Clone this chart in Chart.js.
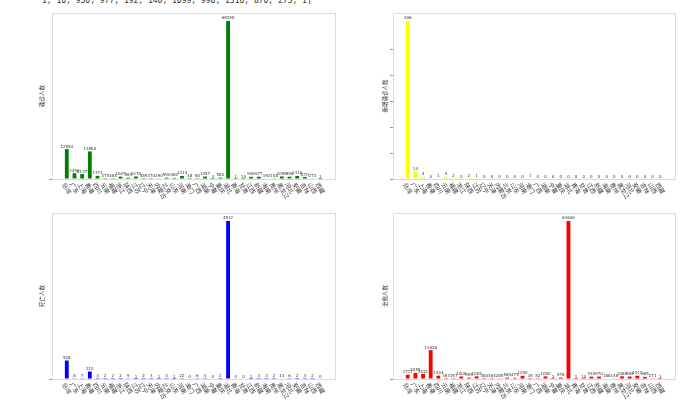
<!DOCTYPE html>
<html>
<head>
<meta charset="utf-8">
<script src="https://cdn.jsdelivr.net/npm/chart.js@4/dist/chart.umd.min.js"></script>
<style>
  body { margin: 0; background: #fff; width: 692px; height: 402px; overflow: hidden; position: relative; }
  canvas { position: absolute; }
  #out { position: absolute; left: 42px; top: -4px; font: 8px "DejaVu Sans Mono", monospace; color: #333; white-space: pre; }
</style>
</head>
<body>
<div id="out"></div>
<canvas id="c1" width="346" height="201" style="left:0;top:0"></canvas>
<canvas id="c2" width="346" height="201" style="left:346px;top:0"></canvas>
<canvas id="c3" width="346" height="201" style="left:0;top:201px"></canvas>
<canvas id="c4" width="346" height="201" style="left:346px;top:201px"></canvas>
<script>
const provinces = ['台湾','广东','上海','香港','四川','云南','福建','浙江','陕西','江苏','辽宁','天津','内蒙古','北京','山东','河南','澳门',
  '广西','湖南','宁夏','重庆','湖北','青海','甘肃','江西','新疆','海南','贵州','黑龙江','河北','安徽','吉林','山西','西藏'];
const confirmed = [12894, 2490, 2137, 11880, 1371, 375, 364, 1007, 564, 1070, 389, 370, 290, 590, 480, 1314, 38,
  58, 1057, 3, 582, 68158, 1, 10, 936, 977, 192, 148, 1099, 990, 1316, 870, 273, 1];
const newConfirmed = [306, 14, 4, 0, 1, 4, 2, 0, 2, 1, 0, 0, 0, 0, 0, 0, 1,
  0, 0, 0, 0, 0, 0, 0, 0, 0, 0, 0, 0, 0, 0, 0, 0, 0];
const deaths = [528, 8, 7, 212, 3, 2, 2, 2, 9, 1, 2, 3, 1, 3, 1, 22, 0,
  6, 4, 0, 2, 4512, 0, 0, 1, 3, 3, 2, 13, 6, 2, 3, 2, 0];
const cured = [1717, 2455, 2031, 11628, 1334, 367, 357, 1000, 555, 1065, 380, 364, 285, 580, 475, 1290, 36,
  52, 1050, 3, 576, 63646, 1, 10, 935, 970, 188, 146, 1080, 984, 1312, 865, 271, 1];

document.getElementById('out').textContent = confirmed.slice(-12).join(', ') + ']';

const CJK = '"Noto Sans CJK SC", sans-serif';

const decor = {
  id: 'decor',
  afterDatasetsDraw(chart) {
    const { ctx, chartArea: a, scales: { x } } = chart;
    const vals = chart.data.datasets[0].data;
    ctx.save();
    // value labels above bars
    ctx.font = '4px "DejaVu Sans", sans-serif';
    ctx.fillStyle = '#333';
    ctx.textAlign = 'center';
    ctx.textBaseline = 'bottom';
    chart.getDatasetMeta(0).data.forEach((bar, i) => {
      ctx.fillText(String(vals[i].y), bar.x, bar.y - 0.5);
    });
    // frame
    ctx.strokeStyle = '#dcdcdc';
    ctx.lineWidth = 1;
    ctx.strokeRect(Math.round(a.left) + 0.5, Math.round(a.top) + 0.5,
      Math.round(a.right - a.left), Math.round(a.bottom - a.top));
    // rotated category labels
    ctx.font = '6px ' + CJK;
    ctx.fillStyle = '#333';
    ctx.textAlign = 'left';
    ctx.textBaseline = 'middle';
    provinces.forEach((p, i) => {
      const px = x.getPixelForValue(i);
      ctx.save();
      ctx.translate(px - 3, a.bottom + 4);
      ctx.rotate(Math.PI / 3);
      ctx.fillText(p, 0, 0);
      ctx.restore();
    });
    ctx.restore();
  }
};

function makeChart(id, values, color, yTitle, step, box) {
  const top = Math.max(...values) * 1.05;
  return new Chart(document.getElementById(id), {
    type: 'bar',
    data: {
      datasets: [{
        data: values.map((v, i) => ({ x: i, y: v })),
        backgroundColor: color,
        barPercentage: 0.5,
        categoryPercentage: 1
      }]
    },
    options: {
      responsive: false,
      animation: false,
      layout: { padding: { left: 0, top: box.top, right: box.right, bottom: 0 } },
      plugins: { legend: { display: false }, tooltip: { enabled: false } },
      scales: {
        x: {
          type: 'linear', min: -1.925, max: 34.925, offset: false, bounds: 'data',
          grid: { display: false, offset: false }, border: { display: false },
          ticks: { display: false },
          afterFit: s => { s.height = box.bottom; }
        },
        y: {
          min: 0, max: top,
          border: { display: false },
          grid: { drawOnChartArea: false, tickLength: 3, color: '#999' },
          ticks: { display: false, stepSize: step },
          afterBuildTicks: s => { s.ticks = s.ticks.filter(t => t.value % step === 0); },
          afterFit: s => { s.width = box.left; },
          title: {
            display: true, text: yTitle, color: '#333',
            font: { size: 5.5, family: CJK },
            padding: { top: box.gap, bottom: 0 }
          }
        }
      }
    },
    plugins: [decor]
  });
}

makeChart('c1', confirmed, '#008000', '确诊人数', 10000, { left: 52, top: 13, right: 11, bottom: 22, gap: 39 });
makeChart('c2', newConfirmed, '#ffff00', '新增确诊人数', 50, { left: 47, top: 13, right: 17, bottom: 22, gap: 36 });
makeChart('c3', deaths, '#0000ff', '死亡人数', 1000, { left: 52, top: 12, right: 11, bottom: 23, gap: 39 });
makeChart('c4', cured, '#ff0000', '治愈人数', 10000, { left: 47, top: 12, right: 17, bottom: 23, gap: 36 });
</script>
</body>
</html>
